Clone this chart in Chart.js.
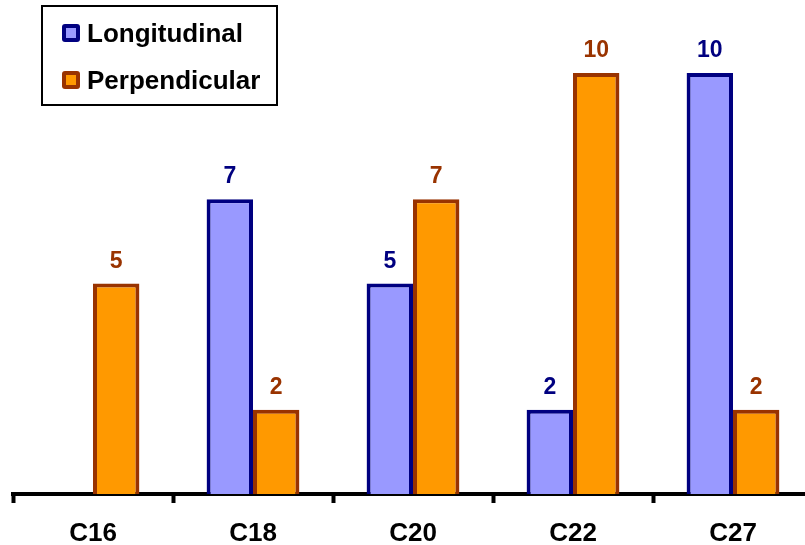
<!DOCTYPE html>
<html>
<head>
<meta charset="utf-8">
<script src="https://cdn.jsdelivr.net/npm/chart.js@4/dist/chart.umd.min.js"></script>
<style>
  html, body { margin: 0; padding: 0; background: #fff; overflow: hidden; }
  #wrap { position: relative; width: 820px; height: 545px; }
</style>
</head>
<body>
<div id="wrap"><canvas id="c" width="820" height="545"></canvas></div>
<script>
// Fibre orientation counts per sample
const categories = ['C16', 'C18', 'C20', 'C22', 'C27'];
const longitudinal = [0, 7, 5, 2, 10];
const perpendicular = [5, 2, 7, 10, 2];
const seriesNames = ['Longitudinal', 'Perpendicular'];

const FONT = '"Liberation Sans", Arial, Helvetica, sans-serif';
const labelColors = ['#000080', '#993300'];

// Value labels above each bar (zero values are not labelled)
const valueLabels = {
  id: 'valueLabels',
  afterDatasetsDraw(chart) {
    const ctx = chart.ctx;
    ctx.save();
    ctx.font = 'bold 23px ' + FONT;
    ctx.textAlign = 'center';
    ctx.textBaseline = 'alphabetic';
    chart.data.datasets.forEach((ds, di) => {
      const meta = chart.getDatasetMeta(di);
      meta.data.forEach((bar, i) => {
        const v = ds.data[i];
        if (!v) return;
        ctx.fillStyle = labelColors[di];
        ctx.fillText(String(v), bar.x, bar.y - 16);
      });
    });
    ctx.restore();
  }
};

// Boxed legend in the upper-left corner
const boxLegend = {
  id: 'boxLegend',
  afterDraw(chart) {
    const ctx = chart.ctx;
    ctx.save();
    ctx.fillStyle = '#fff';
    ctx.fillRect(42, 6, 235, 99);
    ctx.strokeStyle = '#000';
    ctx.lineWidth = 2;
    ctx.strokeRect(42, 6, 235, 99);
    ctx.font = 'bold 26px ' + FONT;
    ctx.textAlign = 'left';
    ctx.textBaseline = 'alphabetic';
    chart.data.datasets.forEach((ds, di) => {
      const y = 24 + di * 47;
      ctx.fillStyle = ds.borderColor;
      ctx.beginPath();
      ctx.roundRect(62, y, 18, 18, 3);
      ctx.fill();
      ctx.fillStyle = ds.backgroundColor;
      ctx.fillRect(66, y + 4, 10, 10);
      ctx.fillStyle = '#000';
      ctx.fillText(ds.label, 87, y + 18);
    });
    ctx.restore();
  }
};

new Chart(document.getElementById('c'), {
  type: 'bar',
  data: {
    labels: categories,
    datasets: [
      {
        label: seriesNames[0],
        data: longitudinal,
        backgroundColor: '#9999FF',
        borderColor: '#000080',
        borderWidth: 4,
        borderSkipped: 'bottom'
      },
      {
        label: seriesNames[1],
        data: perpendicular,
        backgroundColor: '#FF9900',
        borderColor: '#993300',
        borderWidth: 4,
        borderSkipped: 'bottom'
      }
    ]
  },
  options: {
    responsive: false,
    animation: false,
    devicePixelRatio: 1,
    layout: { padding: { left: 13, right: 7, top: 31, bottom: 0 } },
    datasets: { bar: { categoryPercentage: 0.58, barPercentage: 1.0 } },
    plugins: {
      legend: { display: false },
      tooltip: { enabled: false }
    },
    scales: {
      x: {
        offset: true,
        grid: {
          display: true,
          offset: true,
          drawOnChartArea: false,
          drawTicks: true,
          tickLength: 9,
          tickWidth: 4,
          tickColor: '#000'
        },
        border: { display: true, color: '#000', width: 4 },
        ticks: {
          color: '#000',
          padding: 18,
          font: { family: FONT, size: 26, weight: 'bold', lineHeight: 1 }
        },
        afterFit(scale) { scale.height = 51; }
      },
      y: {
        display: false,
        min: 0,
        max: 11
      }
    }
  },
  plugins: [valueLabels, boxLegend]
});
</script>
</body>
</html>
